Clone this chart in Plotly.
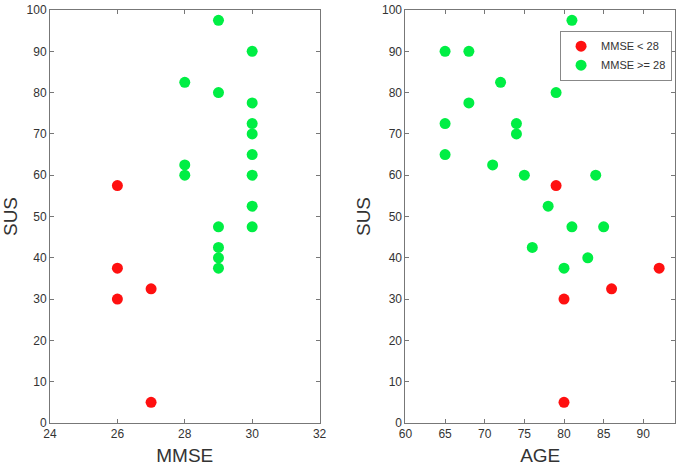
import plotly.graph_objects as go

# MMSE vs SUS
mmse_low = [26, 26, 26, 27, 27]
sus_mmse_low = [57.5, 37.5, 30, 32.5, 5]
mmse_high = [28, 28, 28, 29, 29, 29, 29, 29, 29, 30, 30, 30, 30, 30, 30, 30, 30]
sus_mmse_high = [82.5, 62.5, 60, 97.5, 80, 47.5, 42.5, 40, 37.5, 90, 77.5, 72.5, 70, 65, 60, 52.5, 47.5]

# AGE vs SUS
age_low = [79, 80, 80, 86, 92]
sus_age_low = [57.5, 30, 5, 32.5, 37.5]
age_high = [81, 65, 68, 72, 79, 68, 65, 74, 74, 65, 71, 75, 84, 78, 81, 85, 76, 83, 80]
sus_age_high = [97.5, 90, 90, 82.5, 80, 77.5, 72.5, 72.5, 70, 65, 62.5, 60, 60, 52.5, 47.5, 47.5, 42.5, 40, 37.5]

RED = "#FF1010"
GREEN = "#00EE44"
AXC = "#777777"
TXT = "#333333"
FONT = "Liberation Sans, Arial, sans-serif"

fig = go.Figure()
mk = lambda c: dict(color=c, size=11, line=dict(width=0))
fig.add_trace(go.Scatter(x=mmse_low, y=sus_mmse_low, mode="markers", marker=mk(RED),
                         xaxis="x", yaxis="y", showlegend=False, hoverinfo="skip"))
fig.add_trace(go.Scatter(x=mmse_high, y=sus_mmse_high, mode="markers", marker=mk(GREEN),
                         xaxis="x", yaxis="y", showlegend=False, hoverinfo="skip"))
fig.add_trace(go.Scatter(x=age_low, y=sus_age_low, mode="markers", marker=mk(RED),
                         xaxis="x2", yaxis="y2", name="MMSE < 28", hoverinfo="skip"))
fig.add_trace(go.Scatter(x=age_high, y=sus_age_high, mode="markers", marker=mk(GREEN),
                         xaxis="x2", yaxis="y2", name="MMSE >= 28", hoverinfo="skip"))

axcommon = dict(showgrid=False, zeroline=False, showline=True, linecolor=AXC, linewidth=1,
                mirror="ticks", ticks="inside", ticklen=4, tickcolor=AXC,
                tickfont=dict(family=FONT, size=12, color=TXT),
                title_font=dict(family=FONT, size=19, color=TXT))

fig.update_layout(
    width=685, height=466,
    margin=dict(l=49, r=3, t=7, b=42),
    plot_bgcolor="white", paper_bgcolor="white",
    xaxis=dict(domain=[0, 0.4313], range=[24, 32], tickvals=[24, 26, 28, 30, 32],
               title=dict(text="MMSE", standoff=8), **axcommon),
    yaxis=dict(domain=[0, 1], range=[0, 100], tickvals=list(range(0, 101, 10)),
               title=dict(text="SUS", standoff=10), anchor="x", **axcommon),
    xaxis2=dict(domain=[0.5687, 1], range=[60, 94], tickvals=[60, 65, 70, 75, 80, 85, 90],
                title=dict(text="AGE", standoff=8), anchor="y2", **axcommon),
    yaxis2=dict(domain=[0, 1], range=[0, 100], tickvals=list(range(0, 101, 10)),
                title=dict(text="SUS", standoff=6), anchor="x2", **axcommon),
    legend=dict(x=0.9953, y=0.95, xanchor="right", yanchor="top",
                bordercolor="#888888", borderwidth=1, bgcolor="white",
                font=dict(family=FONT, size=11, color=TXT),
                tracegroupgap=0, itemwidth=30),
)

fig.write_html("out.html", post_script="document.body.style.margin='0';",
               config={"displayModeBar": False})
